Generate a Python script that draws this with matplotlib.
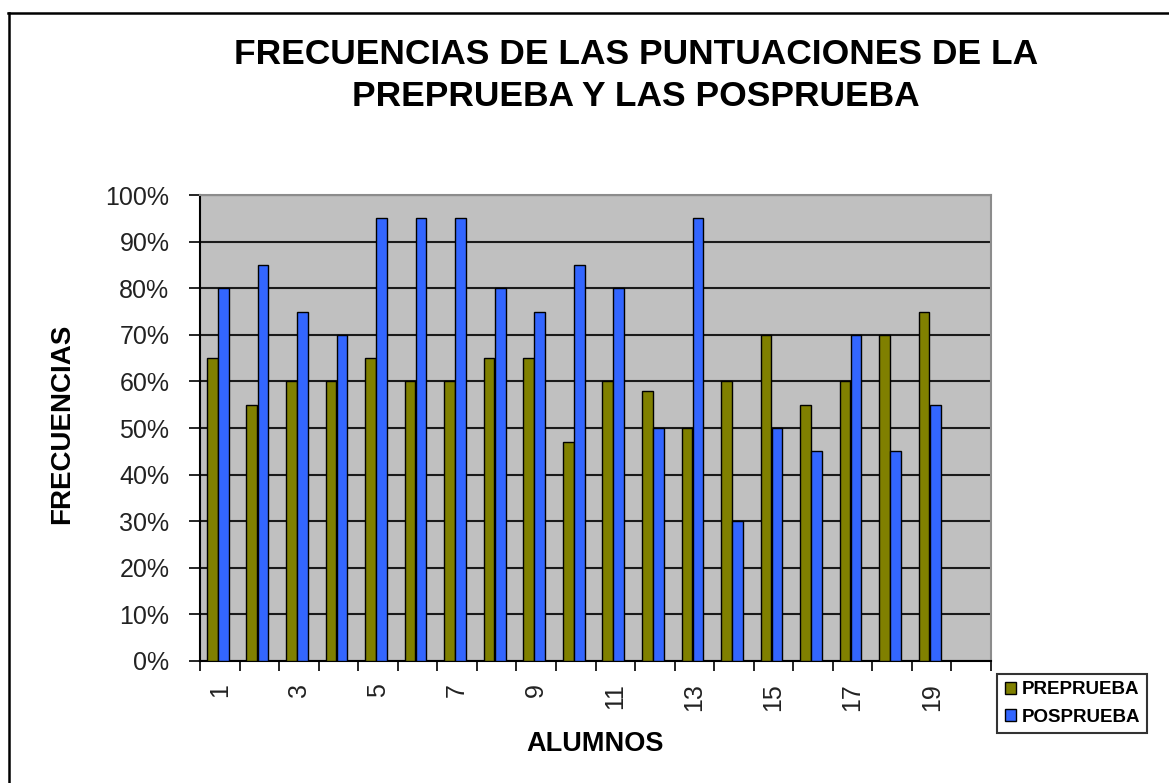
import matplotlib
matplotlib.use("Agg")
import matplotlib.pyplot as plt
from matplotlib.lines import Line2D
from matplotlib.patches import Patch
import numpy as np

plt.rcParams['font.family'] = ['Liberation Sans', 'DejaVu Sans']

alumnos = list(range(1, 21))
preprueba = [65, 55, 60, 60, 65, 60, 60, 65, 65, 47, 60, 58, 50, 60, 70, 55, 60, 70, 75]
posprueba = [80, 85, 75, 70, 95, 95, 95, 80, 75, 85, 80, 50, 95, 30, 50, 45, 70, 45, 55]
yticks = [0, 10, 20, 30, 40, 50, 60, 70, 80, 90, 100]
xlabels_shown = [1, 3, 5, 7, 9, 11, 13, 15, 17, 19]

W, H = 1169, 783
fig = plt.figure(figsize=(W / 100, H / 100), dpi=100)
fig.patch.set_facecolor('white')

# outer frame (left and top visible)
fig.add_artist(Line2D([9 / W, 9 / W], [0, 1 - 13 / H], transform=fig.transFigure, color='black', lw=1.8))
fig.add_artist(Line2D([8 / W, 1], [1 - 13 / H, 1 - 13 / H], transform=fig.transFigure, color='black', lw=1.8))

left, right, top, bottom = 200, 991, 195, 661
ax = fig.add_axes([left / W, 1 - bottom / H, (right - left) / W, (bottom - top) / H])
ax.set_facecolor('#C0C0C0')

x_pre = np.arange(1, len(preprueba) + 1)
bw = 0.27
ax.bar(x_pre - 0.19, preprueba, width=bw, color='#808000', edgecolor='black', linewidth=1.0, zorder=3, label='PREPRUEBA')
ax.bar(x_pre + 0.09, posprueba, width=bw, color='#3366FF', edgecolor='black', linewidth=1.0, zorder=3, label='POSPRUEBA')

ax.set_xlim(0.5, len(alumnos) + 0.5)
ax.set_ylim(0, 100)
ax.set_yticks(yticks)
ax.set_yticklabels([f"{v}%" for v in yticks], fontsize=18, color='#222222')
ax.yaxis.grid(True, color='#1a1a1a', linewidth=1.5, zorder=1)
ax.set_axisbelow(True)
ax.tick_params(axis='y', direction='out', length=8, width=1.2, color='black', pad=14)

ax.set_xticks(xlabels_shown)
ax.set_xticklabels([str(v) for v in xlabels_shown], rotation=90, fontsize=18, color='#222222')
ax.set_xticks(np.arange(0.5, len(alumnos) + 1, 1), minor=True)
ax.tick_params(axis='x', which='major', length=0, pad=16)
ax.tick_params(axis='x', which='minor', direction='out', length=7, width=1.2, color='black')

for s in ['left', 'bottom']:
    ax.spines[s].set_color('black')
    ax.spines[s].set_linewidth(1.5)
for s in ['top', 'right']:
    ax.spines[s].set_color('#8c8c8c')
    ax.spines[s].set_linewidth(1.5)

ax.set_xlabel('ALUMNOS', fontsize=19.5, fontweight='bold', labelpad=14)
fig.text(62 / W, 1 - 424 / H, 'FRECUENCIAS', rotation=90, fontsize=20, fontweight='bold',
         ha='center', va='center')

fig.text(636 / W, 1 - 55 / H, 'FRECUENCIAS DE LAS PUNTUACIONES DE LA', fontsize=25.5,
         fontweight='bold', ha='center', va='center')
fig.text(636 / W, 1 - 97 / H, 'PREPRUEBA Y LAS POSPRUEBA', fontsize=25.5,
         fontweight='bold', ha='center', va='center')

handles = [Patch(facecolor='#808000', edgecolor='black', linewidth=1.0),
           Patch(facecolor='#3366FF', edgecolor='black', linewidth=1.0)]
leg = fig.legend(handles, ['PREPRUEBA', 'POSPRUEBA'], loc='upper left',
                 bbox_to_anchor=(997 / W, 1 - 674 / H), frameon=True, fancybox=False,
                 prop={'weight': 'bold', 'size': 13.5}, handlelength=0.6, handleheight=0.6,
                 handletextpad=0.3, borderpad=0.4, labelspacing=0.55, borderaxespad=0)
leg.get_frame().set_edgecolor('black')
leg.get_frame().set_linewidth(1.5)

fig.savefig('out.png', dpi=100, facecolor='white')
